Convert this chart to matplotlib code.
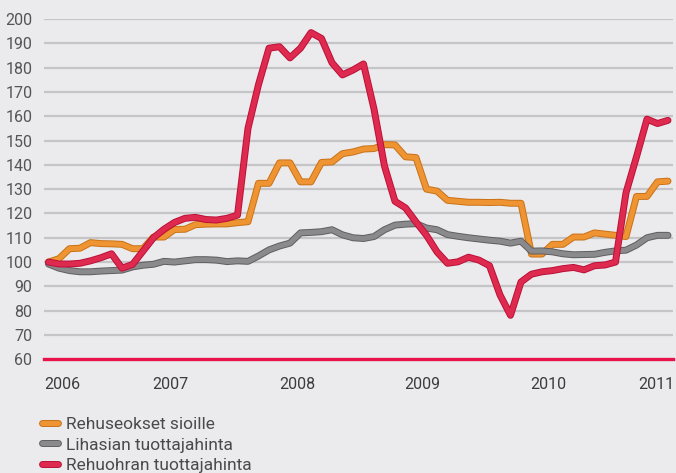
import matplotlib
matplotlib.use("Agg")
import matplotlib.pyplot as plt
import matplotlib.patheffects as pe
import numpy as np

# monthly index values, Jan 2006 = 0
rehuseokset = [100, 101.4, 105.5, 105.7, 108, 107.6, 107.5, 107.3, 105.5, 105.5,
               110.3, 110.3, 113.4, 113.5, 115.4, 115.6, 115.7, 115.7, 116.2, 116.6,
               132.4, 132.4, 140.8, 140.8, 133, 133, 141, 141.2, 144.6, 145.3,
               146.5, 146.7, 148.3, 148.2, 143.3, 143, 130, 129.2, 125.4, 125,
               124.6, 124.6, 124.5, 124.6, 124.2, 124.2, 103.3, 103.3, 107.3, 107.3,
               110.3, 110.3, 112, 111.5, 111, 110.5, 127, 127, 133, 133.3]
lihasika = [99.2, 97.5, 96.5, 96, 96, 96.3, 96.5, 96.7, 98, 98.7,
            99.1, 100.3, 100, 100.5, 101, 101, 100.8, 100.2, 100.5, 100.3,
            102.5, 105, 106.6, 107.8, 112, 112.2, 112.5, 113.3, 111.2, 110,
            109.7, 110.5, 113.3, 115.2, 115.6, 115.8, 114, 113.3, 111.3, 110.6,
            110, 109.5, 109, 108.6, 107.8, 108.6, 104.5, 104.6, 104.2, 103.4,
            103, 103.1, 103.2, 104, 104.6, 104.9, 107, 110, 111, 111]
rehuohra = [100, 99.2, 99.2, 99.5, 100.5, 101.8, 103.4, 97.5, 99, 104.5,
            110, 113.5, 116.3, 118, 118.4, 117.5, 117.3, 118, 119.3, 155,
            173, 188, 188.6, 184, 188, 194.4, 192, 182, 177, 179,
            181.5, 163, 139.5, 125, 122.3, 116.5, 111, 104.2, 99.5, 100.1,
            102, 100.8, 98.5, 86.5, 78.1, 91.8, 95, 96, 96.5, 97.3,
            97.8, 96.8, 98.5, 98.8, 100, 128.5, 143.3, 158.8, 157, 158.3]

years = ["2006", "2007", "2008", "2009", "2010", "2011"]
year_pos = [1.3, 11.6, 23.7, 35.6, 47.6, 57.9]
yticks = list(range(60, 201, 10))

labels = ["Rehuseokset sioille", "Lihasian tuottajahinta", "Rehuohran tuottajahinta"]
colors = ["#ee9433", "#8a8a8c", "#df2a50"]
edges = ["#c97117", "#5e5e60", "#bb0f38"]

bg = "#ebebed"
fig = plt.figure(figsize=(6.76, 4.73), dpi=100, facecolor=bg)
ax = fig.add_axes([43.5 / 676, 1 - 359.3 / 473, 629 / 676, 340.3 / 473])
ax.set_facecolor(bg)

font = "Roboto"
for y in yticks[1:]:
    ax.axhline(y, color="#c5c5c7", lw=1.6, zorder=1)
ax.axhline(60, color="#e8134b", lw=2.4, zorder=2, clip_on=False)

x = np.arange(len(rehuseokset))
series = [rehuseokset, lihasika, rehuohra]
order = [1, 0, 2]
handles = [None] * 3
for k in order:
    ln, = ax.plot(x, series[k], color=colors[k], lw=3.6, zorder=3 + k,
                  solid_capstyle="round", solid_joinstyle="round", clip_on=False,
                  path_effects=[pe.Stroke(linewidth=5.0, foreground=edges[k]), pe.Normal()])
    handles[k] = ln

ax.set_xlim(-0.476, 59.43)
ax.set_ylim(60, 200)
for s in ax.spines.values():
    s.set_visible(False)
ax.set_yticks(yticks)
ax.set_yticklabels([str(v) for v in yticks], fontsize=11.5, color="#555557", family=font)
ax.set_xticks(year_pos)
ax.set_xticklabels(years, fontsize=11.5, color="#3c3c3e", family=font)
ax.tick_params(axis="both", length=0)
ax.tick_params(axis="y", pad=8)
ax.tick_params(axis="x", pad=13)

leg = fig.legend(handles, labels, loc="upper left", bbox_to_anchor=(42 / 676, 1 - 417 / 473),
                 frameon=False, handlelength=0.9, handletextpad=0.5,
                 labelspacing=0.3, borderpad=0, borderaxespad=0,
                 prop={"family": font, "size": 12.5})
for t in leg.get_texts():
    t.set_color("#4a4a4c")

fig.savefig("out.png", dpi=100, facecolor=bg)
